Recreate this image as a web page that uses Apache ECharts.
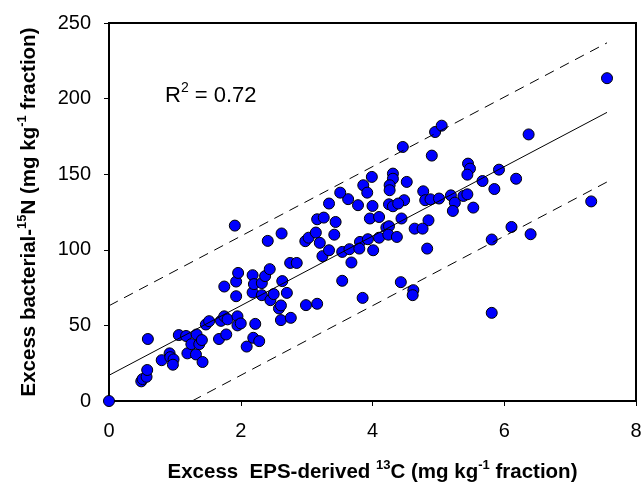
<!DOCTYPE html>
<html>
<head>
<meta charset="utf-8">
<script src="https://cdn.jsdelivr.net/npm/echarts@6/dist/echarts.min.js"></script>
<style>
  html, body { margin: 0; padding: 0; background: #fff; }
  #chart { width: 641px; height: 484px; }
</style>
</head>
<body>
<div id="chart"></div>
<script>
// excess EPS-derived 13C (x) and excess bacterial 15N (y)
const epsC = [
  0, 0.59, 0.49, 0.51, 0.57, 0.58, 0.80, 0.92, 0.93, 0.98, 0.97,
  1.06, 1.17, 1.19, 1.25, 1.33, 1.32, 1.37, 1.41, 1.42,
  1.47, 1.52, 1.67, 1.70, 1.75, 1.78, 1.80, 1.95, 1.95, 2.00,
  1.91, 1.75, 1.93, 1.93, 1.96,
  2.09, 2.19, 2.28, 2.22, 2.18, 2.18, 2.20, 2.32, 2.32, 2.37, 2.44, 2.45, 2.50, 2.58, 2.61, 2.61, 2.63, 2.70, 2.76,
  2.41, 2.62, 2.75, 2.85, 2.99, 3.16,
  2.98, 3.03, 3.14, 3.20, 3.24, 3.34, 3.16, 3.26, 3.44, 3.34, 3.42,
  3.54, 3.54, 3.65, 3.68, 3.63, 3.81, 3.85, 3.78,
  3.51, 3.86, 3.99, 3.92, 4.00, 3.96, 4.10,
  4.31, 4.31, 4.26, 4.26, 4.52, 4.48, 4.25, 4.31, 4.39, 4.44, 4.46, 4.90, 4.95, 5.05,
  5.45, 5.48, 5.44, 4.77, 4.80, 4.88, 5.01, 5.19, 5.25, 5.22, 5.38, 5.44, 5.53,
  5.67, 5.85, 5.92, 6.18, 6.37, 7.56, 7.32, 4.85,
  4.21, 4.25, 4.64, 4.76, 3.80, 3.93, 4.10, 4.24, 4.37, 4.01, 4.83,
  4.43, 4.62, 4.61, 5.81, 6.11, 6.40, 5.81
]
const bactN = [
  0, 41, 13, 14.5, 16, 20.5, 27, 31.5, 29, 27.5, 24,
  43.6, 43, 31.5, 37.6, 44, 30.8, 37.6, 40.3, 25.8,
  50.6, 52.8, 41, 53, 56, 44, 54, 56, 50, 51.3,
  116, 75.7, 69.3, 79, 84.7,
  36, 41.8, 39.6, 51, 71.8, 83.2, 77.3, 78, 70, 82.6, 87.2, 66.7, 70.7, 61.2, 63.2, 53.5, 79.3, 71.5, 55,
  105.9, 110.8, 91.3, 91.3, 63.4, 64.3,
  105.7, 108, 111.4, 104.6, 95.8, 99.7, 120.2, 121.3, 118.4, 130.6, 110,
  79.5, 98.6, 100.4, 91.6, 133.5, 105.2, 68.2, 129.5,
  137.8, 142.7, 148.2, 137.8, 129, 120.7, 121.7,
  150.4, 147, 142.7, 139.4, 144.9, 132.8, 130.1, 128.8, 130.6, 120.7, 168, 162.3, 177.9, 182.1,
  157, 153.7, 149.7, 138.7, 132.8, 133.4, 133.9, 136, 131.2, 125.7, 135.6, 136.7, 127.9,
  145.5, 140.2, 153, 147, 176.3, 213.5, 132, 119.5,
  114.7, 115.6, 114, 114, 100.8, 107, 108, 110, 108.5, 99.7, 100.8,
  78.6, 73.3, 70, 106.8, 115.1, 110.3, 58.3
]

// regression and prediction band
const fitIntercept = 17
const fitSlope = 23
const bandHalfWidth = 46
const fitXMax = 7.56

const xTicks = [0, 2, 4, 6, 8]
const yTicks = [0, 50, 100, 150, 200, 250]

const points = epsC.map((x, i) => [x, bactN[i]])

function fitLine (offset) {
  let x0 = 0
  // the lower band starts where it crosses y = 0
  if (fitIntercept + offset < 0) x0 = -(fitIntercept + offset) / fitSlope
  return [
    [x0, fitIntercept + offset + fitSlope * x0],
    [fitXMax, fitIntercept + offset + fitSlope * fitXMax]
  ]
}

const chart = echarts.init(document.getElementById('chart'), null, { renderer: 'canvas' })

const axisFont = 'Arial, "Liberation Sans", sans-serif'

const titleRich = {
  b: { fontSize: 20.5, fontWeight: 'bold', color: '#000', fontFamily: axisFont, verticalAlign: 'bottom', lineHeight: 24 },
  s: { fontSize: 13, fontWeight: 'bold', color: '#000', fontFamily: axisFont, verticalAlign: 'top', lineHeight: 24 }
}

const option = {
  animation: false,
  backgroundColor: '#fff',
  textStyle: { fontFamily: axisFont },
  grid: {
    left: 109,
    right: 5,
    top: 23,
    bottom: 83,
    outerBoundsMode: 'none',
    containLabel: false,
    show: true,
    borderColor: '#000',
    borderWidth: 2
  },
  xAxis: {
    type: 'value',
    min: xTicks[0],
    max: xTicks[xTicks.length - 1],
    interval: 2,
    splitLine: { show: false },
    axisLine: { onZero: false, lineStyle: { color: '#000', width: 2 } },
    axisTick: { inside: false, length: 5, lineStyle: { color: '#000' } },
    axisLabel: { color: '#000', fontSize: 20, margin: 20, fontFamily: axisFont },
    name: '{b|Excess  EPS-derived }{s|13}{b|C (mg kg}{s|-1}{b| fraction)}',
    nameLocation: 'middle',
    nameGap: 58,
    nameTextStyle: { rich: titleRich }
  },
  yAxis: {
    type: 'value',
    min: yTicks[0],
    max: yTicks[yTicks.length - 1],
    interval: 50,
    splitLine: { show: false },
    axisLine: { onZero: false, lineStyle: { color: '#000', width: 2 } },
    axisTick: { inside: false, length: 5, lineStyle: { color: '#000' } },
    axisLabel: { color: '#000', fontSize: 20, margin: 18, fontFamily: axisFont },
    name: '{b|Excess bacterial-}{s|15}{b|N (mg kg}{s|-1}{b| fraction)}',
    nameLocation: 'middle',
    nameRotate: 90,
    nameGap: 69,
    nameTextStyle: { rich: titleRich }
  },
  graphic: [
    {
      type: 'text',
      left: 165,
      top: 81,
      style: {
        text: '{n|R}{s|2}{n| = 0.72}',
        rich: {
          n: { fontSize: 22, color: '#000', fontFamily: axisFont, verticalAlign: 'bottom', lineHeight: 26 },
          s: { fontSize: 14, color: '#000', fontFamily: axisFont, verticalAlign: 'top', lineHeight: 26 }
        }
      }
    }
  ],
  series: [
    {
      name: 'upper',
      type: 'line',
      data: fitLine(bandHalfWidth),
      symbol: 'none',
      silent: true,
      lineStyle: { color: '#000', width: 1, type: [10, 7] }
    },
    {
      name: 'fit',
      type: 'line',
      data: fitLine(0),
      symbol: 'none',
      silent: true,
      lineStyle: { color: '#000', width: 1 }
    },
    {
      name: 'lower',
      type: 'line',
      data: fitLine(-bandHalfWidth),
      symbol: 'none',
      silent: true,
      lineStyle: { color: '#000', width: 1, type: [10, 7] }
    },
    {
      name: 'samples',
      type: 'scatter',
      data: points,
      symbol: 'circle',
      symbolSize: 11,
      clip: false,
      itemStyle: { color: '#0000ff', borderColor: '#000', borderWidth: 1, opacity: 1 }
    }
  ]
}

chart.setOption(option)
</script>
</body>
</html>
